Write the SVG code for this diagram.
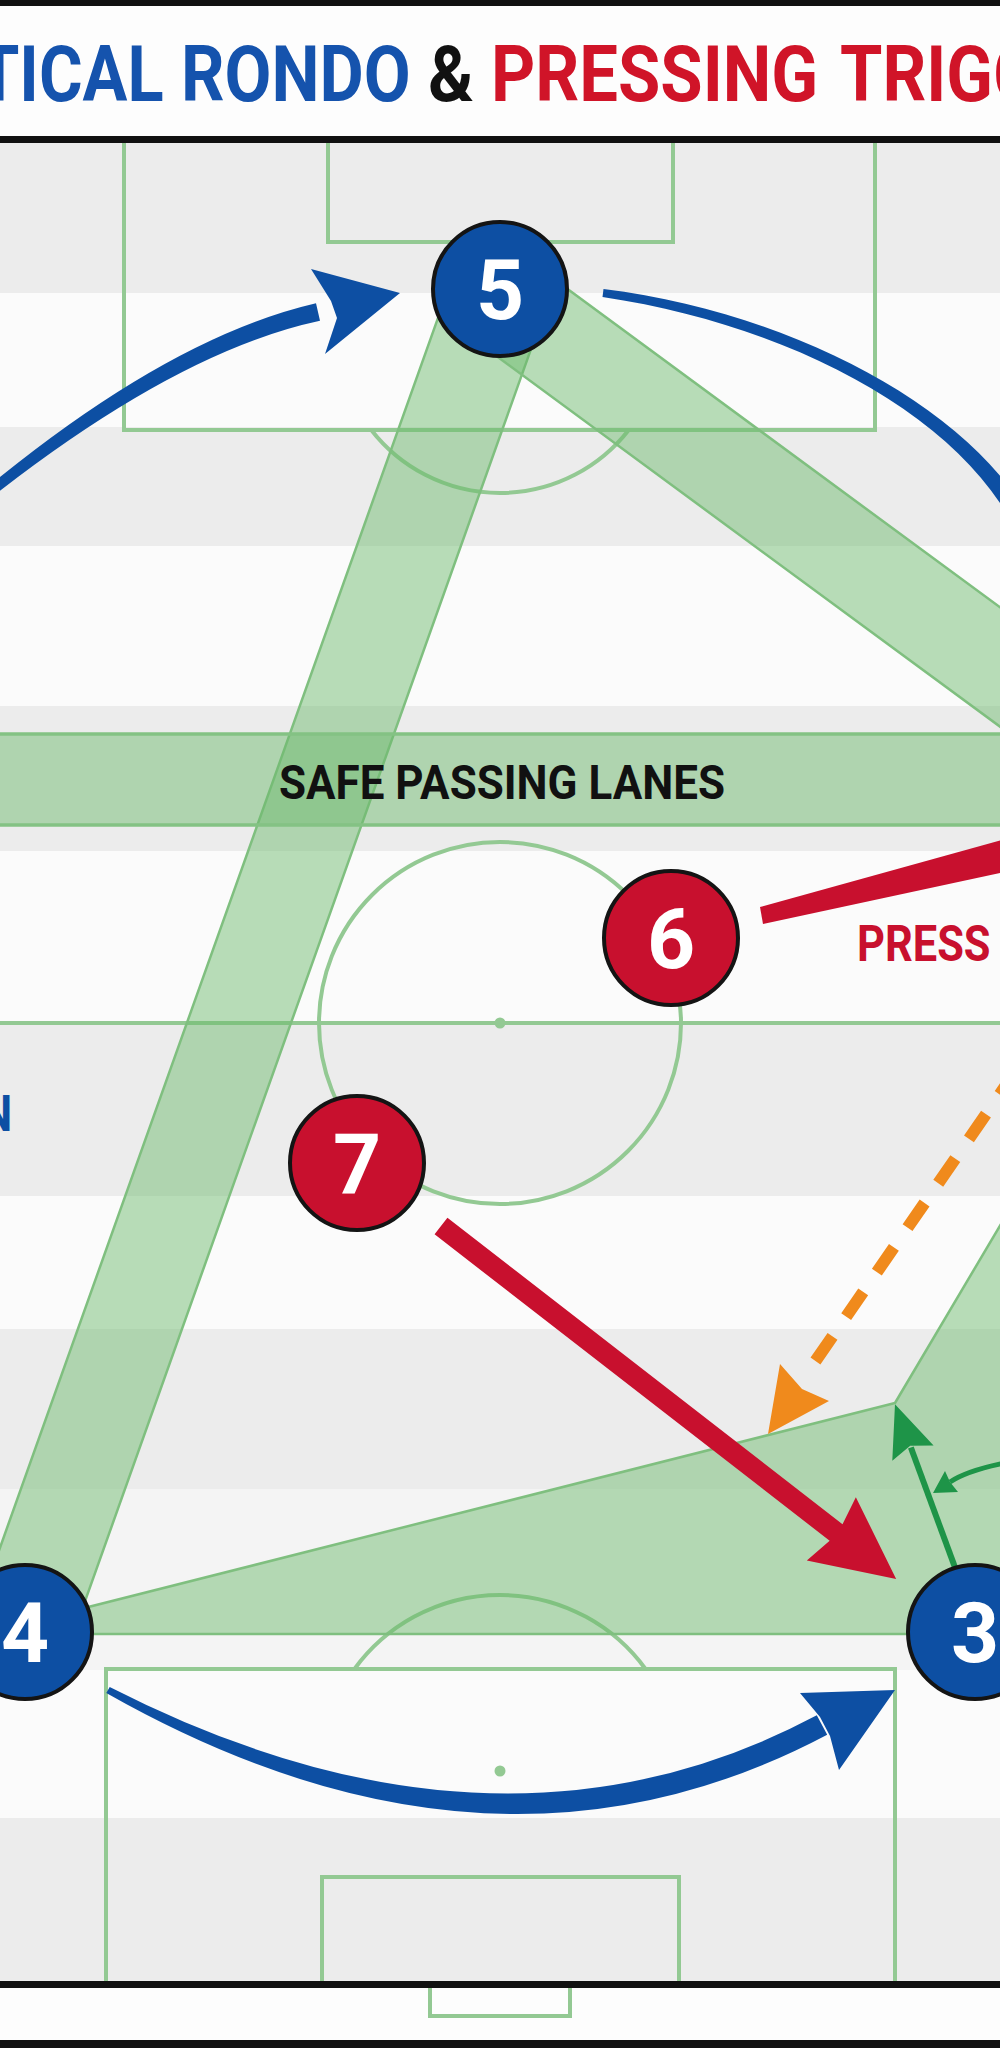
<svg xmlns="http://www.w3.org/2000/svg" width="1000" height="2048" viewBox="0 0 1000 2048">
  <defs>
    <style>
      .sg{fill:#ececec}
      .sw{fill:#fbfbfb}
      .sl{fill:#f4f4f4}
      .pl{fill:none;stroke:#93c993;stroke-width:4}
      .lane{fill:#6dbb6d;fill-opacity:0.48;stroke:#7fbf7f;stroke-width:2.5;stroke-linejoin:round}
      .edge{fill:none;stroke:#84c284;stroke-width:3.5}
      .bl{fill:#0d4fa3}
      .rd{fill:#c8102e}
      .gr{fill:#1e9448}
      .or{fill:#f08a1c}
      .node circle{stroke:#141414;stroke-width:4}
      .num{font-family:Roboto,"Liberation Sans",sans-serif;font-weight:700;font-size:84px;fill:#ffffff;text-anchor:middle}
      .t{font-family:Roboto,"Liberation Sans",sans-serif;font-weight:700}
      .tt{font-family:Roboto,"Liberation Sans",sans-serif;font-weight:700;font-size:77px}
    </style>
  </defs>

  <!-- background -->
  <g id="background">
    <rect x="0" y="0" width="1000" height="2048" fill="#fcfcfc"/>
    <rect class="sg" x="0" y="143" width="1000" height="150"/>
    <rect class="sw" x="0" y="293" width="1000" height="134"/>
    <rect class="sg" x="0" y="427" width="1000" height="119"/>
    <rect class="sw" x="0" y="546" width="1000" height="160"/>
    <rect class="sg" x="0" y="706" width="1000" height="145"/>
    <rect class="sw" x="0" y="851" width="1000" height="172"/>
    <rect class="sg" x="0" y="1023" width="1000" height="173"/>
    <rect class="sw" x="0" y="1196" width="1000" height="133"/>
    <rect class="sg" x="0" y="1329" width="1000" height="160"/>
    <rect class="sl" x="0" y="1489" width="1000" height="181"/>
    <rect class="sw" x="0" y="1670" width="1000" height="148"/>
    <rect class="sg" x="0" y="1818" width="1000" height="164"/>
    <rect x="0" y="1988" width="1000" height="52" fill="#fdfdfd"/>
    <!-- title bar -->
    <rect x="0" y="0" width="1000" height="137" fill="#fdfdfd"/>
    <rect x="0" y="0" width="1000" height="6" fill="#111111"/>
    <rect x="0" y="136" width="1000" height="7" fill="#111111"/>
    <rect x="0" y="1981" width="1000" height="7" fill="#111111"/>
    <rect x="0" y="2040" width="1000" height="8" fill="#111111"/>
  </g>

  <!-- pitch markings -->
  <g id="pitch">
    <path class="pl" d="M124 143 V430 H875 V143"/>
    <path class="pl" d="M328 143 V242 H673 V143"/>
    <path class="pl" d="M371.3 430 A163 163 0 0 0 628.7 430"/>
    <path class="pl" d="M0 1023 H1000"/>
    <circle class="pl" cx="500" cy="1023" r="181"/>
    <circle cx="500" cy="1023" r="5.5" fill="#93c993"/>
    <path class="pl" d="M106 1981 V1669 H895 V1981"/>
    <path class="pl" d="M322 1981 V1877 H679 V1981"/>
    <path class="pl" d="M354.5 1669 A180 180 0 0 1 645.5 1669"/>
    <circle cx="500" cy="1771" r="5.5" fill="#93c993"/>
    <path class="pl" d="M430 1988 V2016 H570 V1988" stroke-width="5"/>
  </g>

  <!-- passing lanes -->
  <g id="lanes">
    <polygon class="lane" points="546.2,306.4 68.2,1648.4 -24.2,1615.6 453.8,273.6"/>
    <polygon class="lane" points="528.5,260.3 1172.8,734.5 1115.9,811.9 471.5,337.7"/>
    <polygon class="lane" points="25,1623 895,1403 1065,1116 1065,1634 25,1634"/>
    <g id="safe-lanes">
      <rect x="-10" y="734" width="1020" height="91" fill="#6dbb6d" fill-opacity="0.48"/>
      <path class="edge" d="M-10 734 H1010 M-10 825 H1010"/>
      <text class="t" transform="translate(279 799) scale(0.897 1)" font-size="49" fill="#111111">SAFE PASSING LANES</text>
    </g>
  </g>

  <!-- connectors -->
  <g id="connectors">
    <!-- blue rotation arcs -->
    <g id="rotation-5-left">
      <path class="bl" d="M-23.2 496.1 Q165.3 338.2 316 303.2 L320 320.8 Q174.7 351.8 -16.8 503.9 Z"/>
      <polygon class="bl" points="400,293 311,269 331,301 337,318 325,354"/>
    </g>
    <g id="rotation-5-right">
      <path class="bl" d="M603.5 289 C800.9 313.6 987.4 416.9 1038.3 536.5 L1021.7 543.5 C972.6 423.1 799.1 326.4 602.5 297 Z"/>
    </g>
    <g id="rotation-4-3">
      <path class="bl" d="M109.7 1686.9 Q497.7 1884.9 816.8 1715.3 L827.2 1734.7 Q492.3 1912.1 106.3 1693.1 Z"/>
      <polygon class="bl" points="895,1690 800,1693 820,1717 830,1736 839,1770"/>
    </g>
    <!-- press from 6 -->
    <polygon id="press-6" class="rd" points="760,907 1005,839 1005,872 763,924"/>
    <!-- press from 7 to 3 -->
    <g id="press-7-3" transform="translate(441 1226) rotate(37.8)">
      <polygon class="rd" points="0,-10.5 500,-10.5 494,-40 576,0 494,40 500,10.5 0,10.5"/>
    </g>
    <!-- orange dashed pass -->
    <g id="pass-orange">
      <path d="M1040 1036 L812 1366" fill="none" stroke="#f08a1c" stroke-width="12" stroke-dasharray="30 24" stroke-dashoffset="13"/>
      <polygon class="or" points="768,1434 780,1364 802,1389 829,1401"/>
    </g>
    <!-- green support run -->
    <g id="run-3" transform="translate(953 1562) rotate(-110.2)">
      <rect class="gr" x="-10" y="-3" width="132" height="6"/>
      <polygon class="gr" points="116,-22 168,0 116,22 124,0"/>
    </g>
    <g id="run-curve">
      <path d="M1010 1462 Q968 1470 950 1482" fill="none" stroke="#1e9448" stroke-width="5"/>
      <polygon class="gr" points="933,1493 945,1471 950,1482 958,1492"/>
    </g>
  </g>

  <!-- labels -->
  <g id="labels">
    <text class="t" transform="translate(857 961) scale(0.868 1)" font-size="50" fill="#c8102e">PRESS</text>
    <text class="t" transform="translate(-19 1131) scale(0.886 1)" font-size="50" fill="#0d4fa3">N</text>
  </g>

  <!-- nodes -->
  <g id="node-5" class="node"><circle class="bl" cx="500" cy="289" r="67"/><text class="num" x="500" y="319">5</text></g>
  <g id="node-6" class="node"><circle class="rd" cx="671" cy="938" r="67"/><text class="num" x="671" y="968">6</text></g>
  <g id="node-7" class="node"><circle class="rd" cx="357" cy="1163" r="67"/><text class="num" x="357" y="1193">7</text></g>
  <g id="node-4" class="node"><circle class="bl" cx="25" cy="1632" r="67"/><text class="num" x="25" y="1662">4</text></g>
  <g id="node-3" class="node"><circle class="bl" cx="975" cy="1632" r="67"/><text class="num" x="975" y="1662">3</text></g>

  <!-- title -->
  <g id="title">
    <text class="tt" transform="translate(-22 101) scale(0.867 1)" fill="#1553ad">TICAL</text>
    <text class="tt" transform="translate(181 101) scale(0.884 1)" fill="#1553ad">RONDO</text>
    <text class="tt" transform="translate(428 101) scale(0.9 1)" fill="#111111">&amp;</text>
    <text class="tt" transform="translate(491 101) scale(0.893 1)" fill="#d01428">PRESSING</text>
    <text class="tt" transform="translate(840 101) scale(0.889 1)" fill="#d01428">TRIGG</text>
  </g>
</svg>
